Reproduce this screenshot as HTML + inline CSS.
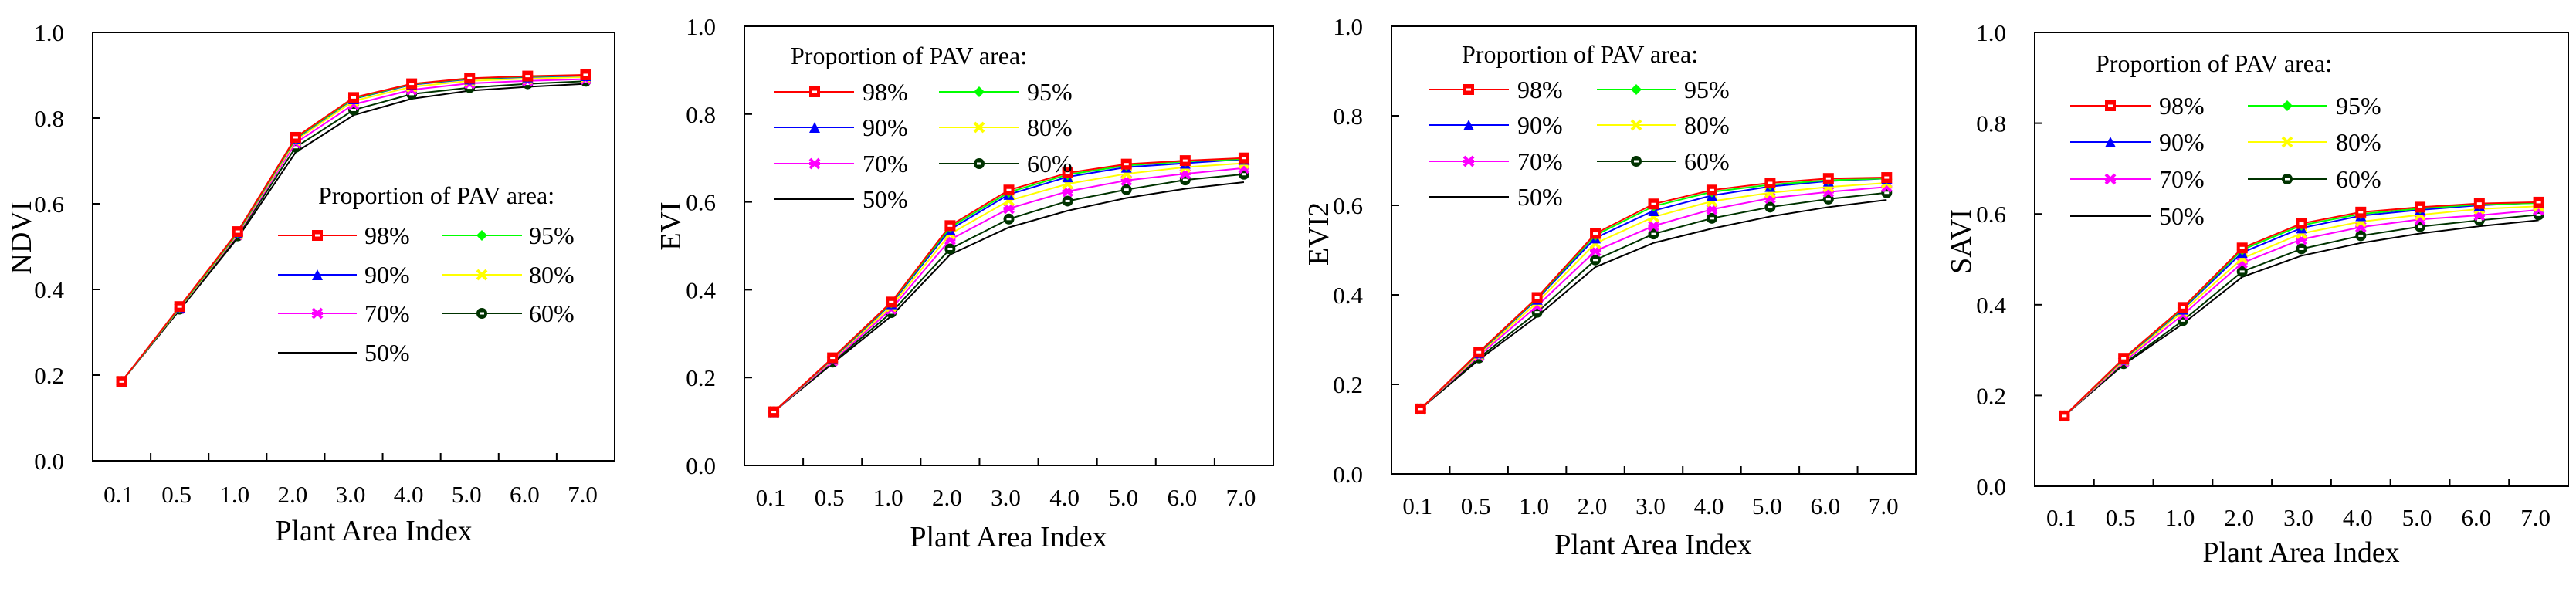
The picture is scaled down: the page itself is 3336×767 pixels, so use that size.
<!DOCTYPE html>
<html><head><meta charset="utf-8"><style>
html,body{margin:0;padding:0;background:#fff;}
svg{display:block;font-family:"Liberation Serif",serif;}
text{font-family:"Liberation Serif",serif;}
</style></head><body>
<svg id="chart" width="3336" height="767" viewBox="0 0 3336 767" xmlns="http://www.w3.org/2000/svg" font-family="Liberation Serif, serif"></svg>
<script>
const categories = ["0.1","0.5","1.0","2.0","3.0","4.0","5.0","6.0","7.0"];
const seriesNames = ["98%","95%","90%","80%","70%","60%","50%"];
const yTicks = [0,0.2,0.4,0.6,0.8,1.0];
const yTickLabels = ["0.0","0.2","0.4","0.6","0.8","1.0"];
const ndvi98=[.185,.36,.535,.755,.848,.880,.893,.898,.901];
const ndvi95=[.185,.358,.533,.753,.846,.879,.892,.897,.900];
const ndvi90=[.185,.358,.532,.752,.845,.878,.891,.896,.899];
const ndvi80=[.185,.357,.530,.748,.840,.873,.887,.892,.896];
const ndvi70=[.185,.356,.528,.742,.832,.866,.881,.887,.891];
const ndvi60=[.185,.354,.525,.732,.819,.856,.871,.880,.886];
const ndvi50=[.185,.352,.520,.720,.807,.845,.864,.873,.880];
const evi98=[.122,.245,.372,.546,.627,.666,.686,.694,.700];
const evi95=[.122,.244,.370,.542,.622,.662,.683,.692,.698];
const evi90=[.122,.243,.368,.537,.617,.657,.679,.688,.697];
const evi80=[.122,.241,.362,.527,.603,.641,.664,.679,.688];
const evi70=[.122,.238,.356,.514,.585,.624,.649,.664,.677];
const evi60=[.122,.235,.348,.493,.561,.602,.628,.650,.663];
const evi50=[.122,.232,.340,.480,.542,.580,.609,.630,.645];
const evi2_98=[.145,.272,.394,.537,.603,.634,.650,.660,.662];
const evi2_95=[.145,.271,.392,.533,.598,.630,.646,.656,.660];
const evi2_90=[.145,.270,.390,.527,.588,.622,.642,.654,.660];
const evi2_80=[.145,.267,.383,.515,.574,.609,.628,.641,.650];
const evi2_70=[.145,.264,.375,.498,.554,.591,.616,.630,.641];
const evi2_60=[.145,.259,.361,.478,.536,.571,.596,.614,.628];
const evi2_50=[.145,.255,.352,.462,.516,.548,.575,.596,.612];
const savi98=[.155,.282,.394,.525,.579,.604,.615,.623,.626];
const savi95=[.155,.281,.392,.521,.575,.600,.612,.621,.624];
const savi90=[.155,.280,.390,.515,.569,.596,.609,.619,.625];
const savi80=[.155,.277,.385,.502,.557,.583,.598,.611,.617];
const savi70=[.155,.274,.378,.492,.544,.571,.588,.597,.609];
const savi60=[.155,.270,.365,.473,.523,.552,.572,.586,.598];
const savi50=[.155,.268,.358,.461,.508,.536,.557,.573,.586];

const colors=["#ff0000","#00ff00","#0000ff","#ffff00","#ff00ff","#003300","#000000"];
const markers=["square","diamond","triangle","cross","star","circle","none"];
const NS="http://www.w3.org/2000/svg";
const FONT="Liberation Serif, serif";
const svg=document.getElementById('chart');
function mk(tag,attrs,parent){const e=document.createElementNS(NS,tag);for(const k in attrs)e.setAttribute(k,attrs[k]);if(tag==='text')e.setAttribute('font-family',FONT);(parent||svg).appendChild(e);return e;}

const panels=[
 {key:"ndvi",title:"NDVI",data:[ndvi98,ndvi95,ndvi90,ndvi80,ndvi70,ndvi60,ndvi50],l:120,r:796,t:42,b:597,ytx:27,yty:308,xtx:484,xty:700,tly:640,
  leg:{tx:412,ty:264,rows:[305,356,406,457],c1:[360,462,411,472],c2:[572,676,624,685]}},
 {key:"evi",title:"EVI",data:[evi98,evi95,evi90,evi80,evi70,evi60,evi50],l:964,r:1649,t:34,b:603,ytx:868,yty:293,xtx:1306,xty:708,tly:644,
  leg:{tx:1024,ty:83,rows:[119,165,212,258],c1:[1003,1106,1055,1117],c2:[1216,1319,1268,1330]}},
 {key:"evi2",title:"EVI2",data:[evi2_98,evi2_95,evi2_90,evi2_80,evi2_70,evi2_60,evi2_50],l:1802,r:2481,t:34,b:614,ytx:1707,yty:303,xtx:2141,xty:718,tly:655,
  leg:{tx:1893,ty:81,rows:[116,162,209,255],c1:[1851,1954,1902,1965],c2:[2068,2170,2119,2181]}},
 {key:"savi",title:"SAVI",data:[savi98,savi95,savi90,savi80,savi70,savi60,savi50],l:2635,r:3326,t:42,b:630,ytx:2539,yty:313,xtx:2980,xty:728,tly:670,
  leg:{tx:2714,ty:93,rows:[137,184,232,280],c1:[2681,2785,2733,2796],c2:[2911,3014,2962,3025]}}
];

function drawMarker(g,type,x,y,color){
  const s=7;let e;
  if(type==="square"){e=mk('rect',{x:x-s,y:y-s,width:2*s,height:2*s,fill:color},g);mk('rect',{x:x-3,y:y-1.5,width:6,height:3,fill:"#fff"},g);}
  else if(type==="diamond"){e=mk('polygon',{points:`${x},${y-s} ${x+s},${y} ${x},${y+s} ${x-s},${y}`,fill:color},g);}
  else if(type==="triangle"){e=mk('polygon',{points:`${x},${y-s} ${x+s},${y+s} ${x-s},${y+s}`,fill:color},g);}
  else if(type==="cross"){e=mk('path',{d:`M${x-s+1},${y-s+1}L${x+s-1},${y+s-1}M${x+s-1},${y-s+1}L${x-s+1},${y+s-1}`,stroke:color,'stroke-width':4,fill:"none"},g);}
  else if(type==="star"){e=mk('path',{d:`M${x-s+1},${y-s+1}L${x+s-1},${y+s-1}M${x+s-1},${y-s+1}L${x-s+1},${y+s-1}M${x-s},${y}L${x+s},${y}`,stroke:color,'stroke-width':4,fill:"none"},g);}
  else if(type==="circle"){e=mk('circle',{cx:x,cy:y,r:s,fill:color},g);mk('rect',{x:x-3,y:y-1.5,width:6,height:3,fill:"#fff"},g);}
  return e;
}

panels.forEach(p=>{
  const g=mk('g',{});
  
  
  const bw=(p.r-p.l)/categories.length;
  const xs=i=>p.l+bw*(i+0.5);
  const ys=v=>p.b-(p.b-p.t)*v;
  for(let si=p.data.length-1;si>=0;si--){
    const vals=p.data[si];
    const sg=mk('g',{},g);
    
    
    const pl=mk('polyline',{points:vals.map((v,i)=>xs(i)+','+ys(v)).join(' '),fill:'none',stroke:colors[si],'stroke-width':2},sg);
    
    
    vals.forEach((v,i)=>{const m=drawMarker(sg,markers[si],xs(i),ys(v),colors[si]);if(m){}});
  }
  const fr=mk('rect',{x:p.l,y:p.t,width:p.r-p.l,height:p.b-p.t,fill:'none',stroke:'#000','stroke-width':2},g);
  
  
  for(let i=1;i<categories.length;i++){const x=p.l+bw*i;mk('line',{x1:x,y1:p.b,x2:x,y2:p.b-10,stroke:'#000','stroke-width':2},g);}
  categories.forEach((c,i)=>{const t=mk('text',{x:xs(i)-4,y:p.tly+11,'font-size':31,'text-anchor':'middle'},g);t.textContent=c;});
  yTicks.forEach((v,i)=>{const y=ys(v);if(i>0&&i<yTicks.length-1)mk('line',{x1:p.l,y1:y,x2:p.l+10,y2:y,stroke:'#000','stroke-width':2},g);
    const t=mk('text',{x:p.l-37,y:y+11,'font-size':31,'text-anchor':'end'},g);t.textContent=yTickLabels[i];});
  const xt=mk('text',{x:p.xtx,y:p.xty,'font-size':38,'text-anchor':'middle'},g);xt.textContent="Plant Area Index";
  
  
  const yt=mk('text',{x:p.ytx+13,y:p.yty,'font-size':38,'text-anchor':'middle',transform:`rotate(-90 ${p.ytx+13} ${p.yty})`},g);yt.textContent=p.title;
  
  
  const lg=mk('g',{},g);
  
  
  const lt=mk('text',{x:p.leg.tx,y:p.leg.ty,'font-size':32},lg);lt.textContent="Proportion of PAV area:";
  
  
  seriesNames.forEach((n,si)=>{
    const row=Math.floor(si/2),col=si%2;const c=col?p.leg.c2:p.leg.c1;const y=p.leg.rows[row];
    const eg=mk('g',{},lg);
    
    
    mk('line',{x1:c[0],y1:y,x2:c[1],y2:y,stroke:colors[si],'stroke-width':2},eg);
    drawMarker(eg,markers[si],c[2],y,colors[si]);
    const t=mk('text',{x:c[3],y:y+11,'font-size':32},eg);t.textContent=n;
  });
});
</script>
</body></html>
